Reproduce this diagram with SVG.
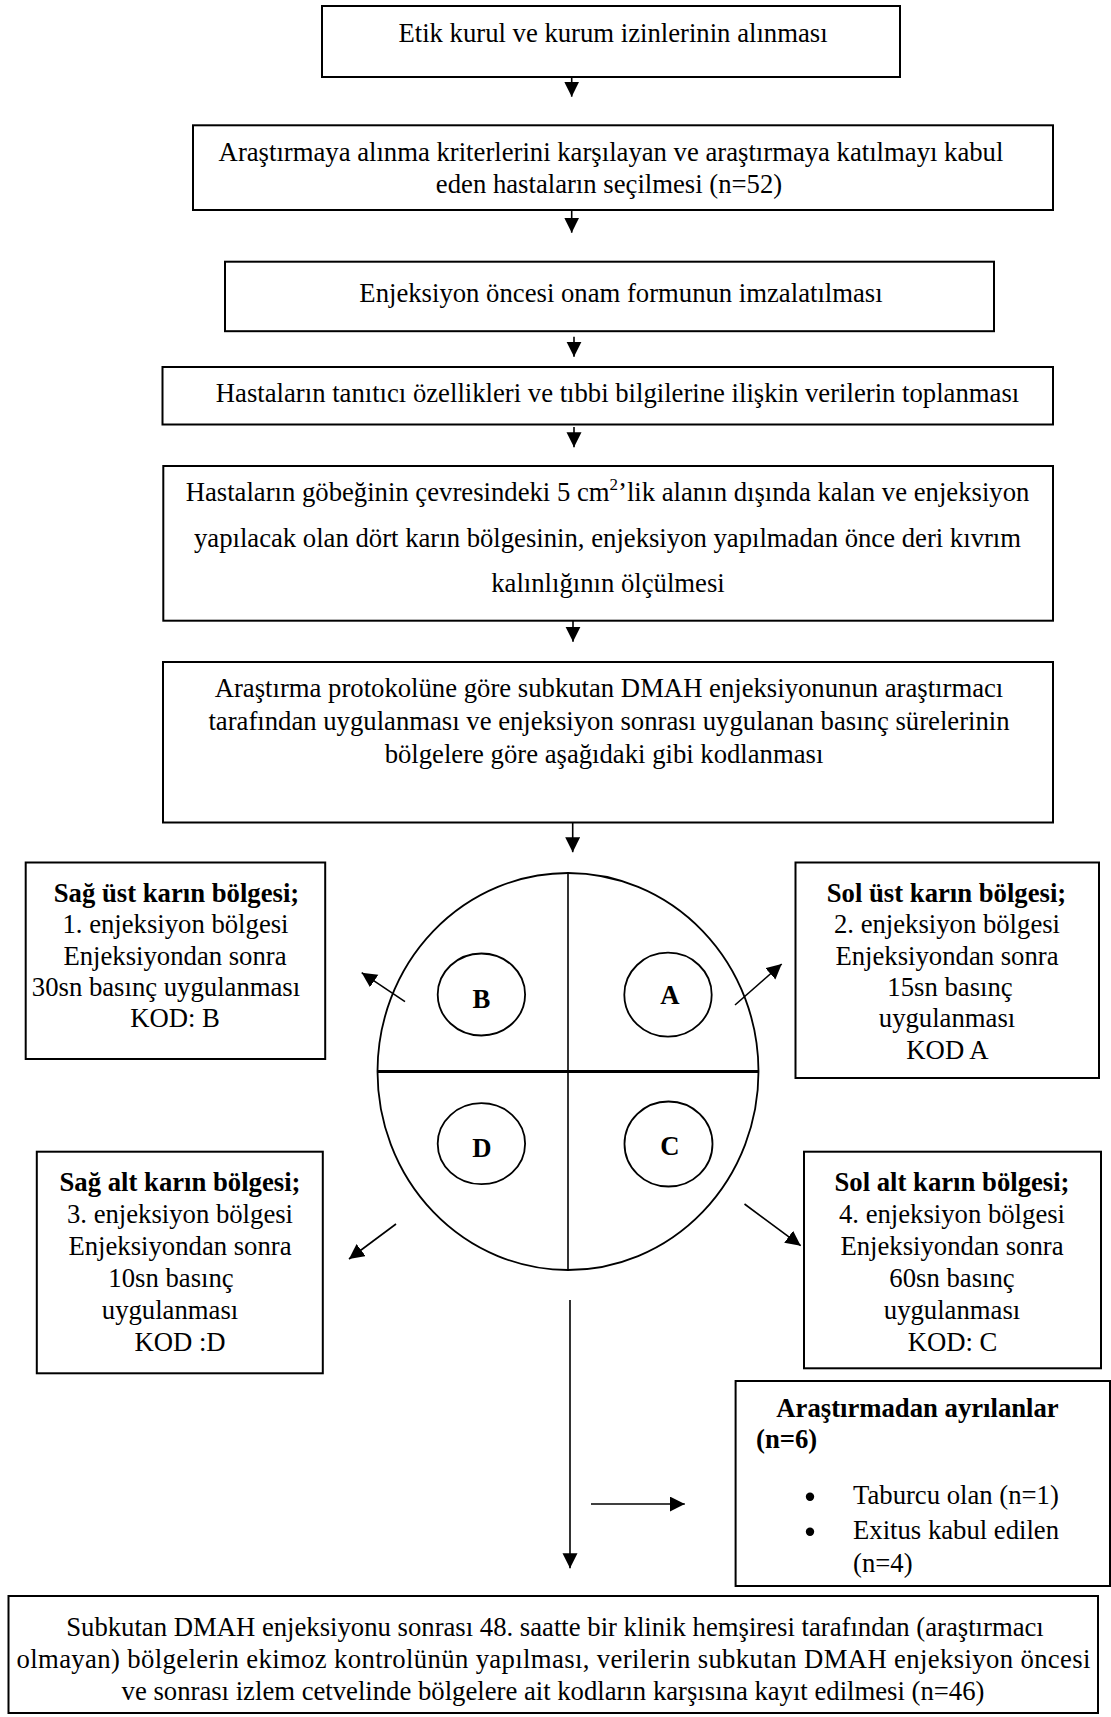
<svg xmlns="http://www.w3.org/2000/svg" width="1111" height="1717" viewBox="0 0 1111 1717">
<style>
  .box { fill: #ffffff; stroke: #000; stroke-width: 2; }
  .t { font-family: "Liberation Serif", "Times New Roman", serif; font-size: 26.7px; fill: #000; text-anchor: middle; }
  .b { font-weight: bold; }
  .l { text-anchor: start; }
  .ln { stroke: #000; stroke-width: 1.6; fill: none; }
  .cir { fill: none; stroke: #000; stroke-width: 1.8; }
</style>
<defs>
  <marker id="ah" markerUnits="userSpaceOnUse" markerWidth="16" markerHeight="16" refX="15" refY="7.5" orient="auto">
    <path d="M0,0 L15,7.5 L0,15 Z" fill="#000"/>
  </marker>
</defs>
<rect width="1111" height="1717" fill="#fff"/>

<g id="n1">
  <rect class="box" x="322" y="6" width="578" height="71"/>
  <text class="t" x="613" y="41.7">Etik kurul ve kurum izinlerinin alınması</text>
</g>
<g id="n2">
  <rect class="box" x="193" y="125.3" width="860" height="84.7"/>
  <text class="t" x="611" y="160.7">Araştırmaya alınma kriterlerini karşılayan ve araştırmaya katılmayı kabul</text>
  <text class="t" x="609" y="192.7">eden hastaların seçilmesi (n=52)</text>
</g>
<g id="n3">
  <rect class="box" x="225" y="261.7" width="769" height="69.5"/>
  <text class="t" x="621" y="301.7">Enjeksiyon öncesi onam formunun imzalatılması</text>
</g>
<g id="n4">
  <rect class="box" x="162.5" y="367" width="890.5" height="57.5"/>
  <text class="t" x="617.5" y="401.7">Hastaların tanıtıcı özellikleri ve tıbbi bilgilerine ilişkin verilerin toplanması</text>
</g>
<g id="n5">
  <rect class="box" x="163.3" y="466" width="889.7" height="154.7"/>
  <text class="t" x="607.5" y="500.7">Hastaların göbeğinin çevresindeki 5 cm<tspan dy="-11" font-size="17">2</tspan><tspan dy="11">’lik alanın dışında kalan ve enjeksiyon</tspan></text>
  <text class="t" x="607.5" y="546.7">yapılacak olan dört karın bölgesinin, enjeksiyon yapılmadan önce deri kıvrım</text>
  <text class="t" x="608" y="591.7">kalınlığının ölçülmesi</text>
</g>
<g id="n6">
  <rect class="box" x="163" y="662" width="890" height="160.5"/>
  <text class="t" x="609" y="697">Araştırma protokolüne göre subkutan DMAH enjeksiyonunun araştırmacı</text>
  <text class="t" x="609" y="730">tarafından uygulanması ve enjeksiyon sonrası uygulanan basınç sürelerinin</text>
  <text class="t" x="604" y="762.5">bölgelere göre aşağıdaki gibi kodlanması</text>
</g>

<g id="abdomen">
  <ellipse class="cir" cx="568" cy="1071.5" rx="190.5" ry="198.5"/>
  <line class="ln" x1="568" y1="873" x2="568" y2="1270"/>
  <line x1="377.5" y1="1071.5" x2="758.5" y2="1071.5" stroke="#000" stroke-width="2.8"/>
</g>
<g id="zoneB">
  <ellipse class="cir" cx="481.4" cy="994.5" rx="43.7" ry="41"/>
  <text class="t b" x="481.4" y="1008">B</text>
</g>
<g id="zoneA">
  <ellipse class="cir" cx="668" cy="994.7" rx="43.7" ry="42"/>
  <text class="t b" x="670" y="1003.5">A</text>
</g>
<g id="zoneD">
  <ellipse class="cir" cx="481.4" cy="1143.7" rx="43.7" ry="40.5"/>
  <text class="t b" x="482" y="1156.7">D</text>
</g>
<g id="zoneC">
  <ellipse class="cir" cx="668.5" cy="1144" rx="44" ry="42.5"/>
  <text class="t b" x="670" y="1155">C</text>
</g>

<g id="boxB">
  <rect class="box" x="25.7" y="862.5" width="299.5" height="196.5"/>
  <text class="t b" x="176.5" y="902">Sağ üst karın bölgesi;</text>
  <text class="t" x="175.5" y="933.3">1. enjeksiyon bölgesi</text>
  <text class="t" x="175" y="964.6">Enjeksiyondan sonra</text>
  <text class="t" x="166" y="995.9">30sn basınç uygulanması</text>
  <text class="t" x="175" y="1027.2">KOD: B</text>
</g>
<g id="boxA">
  <rect class="box" x="795.5" y="862.5" width="303.5" height="215.5"/>
  <text class="t b" x="946.5" y="902">Sol üst karın bölgesi;</text>
  <text class="t" x="947" y="933.3">2. enjeksiyon bölgesi</text>
  <text class="t" x="947" y="964.6">Enjeksiyondan sonra</text>
  <text class="t" x="950" y="995.9">15sn basınç</text>
  <text class="t" x="947" y="1027.2">uygulanması</text>
  <text class="t" x="947.5" y="1058.5">KOD A</text>
</g>
<g id="boxD">
  <rect class="box" x="36.8" y="1151.7" width="286" height="221.6"/>
  <text class="t b" x="180" y="1190.5">Sağ alt karın bölgesi;</text>
  <text class="t" x="180" y="1222.5">3. enjeksiyon bölgesi</text>
  <text class="t" x="180" y="1254.5">Enjeksiyondan sonra</text>
  <text class="t" x="171" y="1286.5">10sn basınç</text>
  <text class="t" x="170" y="1318.5">uygulanması</text>
  <text class="t" x="180" y="1350.5">KOD :D</text>
</g>
<g id="boxC">
  <rect class="box" x="804" y="1151.7" width="297" height="216.6"/>
  <text class="t b" x="952" y="1190.5">Sol alt karın bölgesi;</text>
  <text class="t" x="952" y="1222.5">4. enjeksiyon bölgesi</text>
  <text class="t" x="952" y="1254.5">Enjeksiyondan sonra</text>
  <text class="t" x="952" y="1286.5">60sn basınç</text>
  <text class="t" x="952" y="1318.5">uygulanması</text>
  <text class="t" x="952.5" y="1350.5">KOD: C</text>
</g>
<g id="excluded">
  <rect class="box" x="735.6" y="1381" width="374.4" height="205"/>
  <text class="t b" x="917.5" y="1417">Araştırmadan ayrılanlar</text>
  <text class="t b l" x="756" y="1447.5">(n=6)</text>
  <circle cx="810" cy="1496.7" r="4.2" fill="#000"/>
  <circle cx="810" cy="1531.7" r="4.2" fill="#000"/>
  <text class="t l" x="853" y="1503.5">Taburcu olan (n=1)</text>
  <text class="t l" x="853" y="1538.5">Exitus kabul edilen</text>
  <text class="t l" x="853" y="1571.5">(n=4)</text>
</g>
<g id="final">
  <rect class="box" x="8.5" y="1596" width="1089.5" height="117"/>
  <text class="t" x="555" y="1636">Subkutan DMAH enjeksiyonu sonrası 48. saatte bir klinik hemşiresi tarafından (araştırmacı</text>
  <text class="t" x="553.5" y="1668" textLength="1074" lengthAdjust="spacing">olmayan) bölgelerin ekimoz kontrolünün yapılması, verilerin subkutan DMAH enjeksiyon öncesi</text>
  <text class="t" x="553" y="1700">ve sonrası izlem cetvelinde bölgelere ait kodların karşısına kayıt edilmesi (n=46)</text>
</g>

<g id="connectors" class="ln" marker-end="url(#ah)">
  <line x1="571.7" y1="77" x2="571.7" y2="96.7"/>
  <line x1="571.7" y1="210" x2="571.7" y2="232.7"/>
  <line x1="574" y1="336.7" x2="574" y2="356.7"/>
  <line x1="574" y1="427" x2="574" y2="447.3"/>
  <line x1="573" y1="620.7" x2="573" y2="641.7"/>
  <line x1="572.7" y1="822.5" x2="572.7" y2="852.2"/>
  <line x1="405" y1="1001.7" x2="361.7" y2="972.7"/>
  <line x1="735" y1="1005" x2="781.7" y2="964"/>
  <line x1="396" y1="1224" x2="349" y2="1259"/>
  <line x1="744.5" y1="1204" x2="800.7" y2="1245.7"/>
  <line x1="570" y1="1300" x2="570" y2="1568.3"/>
  <line x1="591" y1="1504" x2="684.8" y2="1504"/>
</g>
</svg>
